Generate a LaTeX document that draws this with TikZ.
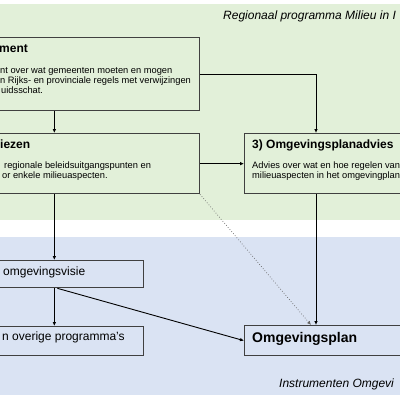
\documentclass[tikz,border=0pt]{standalone}
\usepackage{fontspec}
\setmainfont{Liberation Sans}
\usetikzlibrary{arrows.meta, positioning}
\definecolor{regiogreen}{HTML}{E2F0D9}
\definecolor{instrblue}{HTML}{DAE3F3}
\definecolor{boxline}{HTML}{404040}

\begin{document}
\begin{tikzpicture}[
    x=1pt, y=-1pt,
    >={Latex[length=4pt,width=3.6pt]},
    frame/.style={draw=boxline, line width=1.3pt, inner sep=0pt},
    conn/.style={->, line width=0.9pt},
    hint/.style={->, dotted, draw=black!60, line width=0.7pt},
    title/.style={anchor=base west, inner sep=0pt, font=\fontsize{12}{14}\selectfont\bfseries},
    body/.style={anchor=base west, inner sep=0pt, font=\fontsize{9.3}{10}\selectfont},
    plain/.style={anchor=base west, inner sep=0pt, font=\fontsize{12}{14}\selectfont},
    area/.style={anchor=base west, inner sep=0pt, font=\fontsize{12}{14}\selectfont\itshape},
]
    \useasboundingbox (0,0) rectangle (400,400);
    \clip (0,0) rectangle (400,400);

    % vlakken
    \fill[regiogreen] (0,4) rectangle (400,220);
    \fill[instrblue]  (0,237) rectangle (400,395);

    % kaders
    \node[frame, fill=regiogreen, minimum width=290pt, minimum height=73pt, anchor=north east] (docu)       at (200,37)  {};
    \node[frame, fill=regiogreen, minimum width=290pt, minimum height=60pt, anchor=north east] (adviezen)   at (200,133) {};
    \node[frame, fill=regiogreen, minimum width=200pt, minimum height=60pt, anchor=north west] (planadvies) at (244,133) {};
    \node[frame, fill=instrblue,  minimum width=178pt, minimum height=27pt, anchor=north east] (visie)      at (144,260) {};
    \node[frame, fill=instrblue,  minimum width=178pt, minimum height=29pt, anchor=north east] (overig)     at (144,326) {};
    \node[frame, fill=instrblue,  minimum width=200pt, minimum height=30pt, anchor=north west] (plan)       at (244,325) {};

    \coordinate (knik) at (316,0);
    \coordinate (stip) at (311,0);

    % pijlen
    \draw[conn] (docu.south) -- (adviezen.north);
    \draw[conn] (docu.east) -| (knik |- planadvies.north);
    \draw[conn] (adviezen.east) -- (planadvies.west);
    \draw[conn] (knik |- planadvies.south) -- (knik |- plan.north);
    \draw[hint] (adviezen.south east) -- (stip |- plan.north);
    \draw[conn] (adviezen.south) -- (visie.north);
    \draw[conn] (visie.south) -- (overig.north);
    \draw[conn] ([xshift=3pt]visie.south) -- (plan.west);

    % teksten
    \node[title] (docutitel) at (-1,52) {ment};
    \node[body]  (docu1) at (0,73) {nt over wat gemeenten moeten en mogen};
    \node[body]  (docu2) at (0,83) {n Rijks- en provinciale regels met verwijzingen};
    \node[body]  (docu3) at (1,93) {uidsschat.};

    \node[title] (adviezentitel) at (0,148) {iezen};
    \node[body]  (adviezen1) at (4,168) {regionale beleidsuitgangspunten en};
    \node[body]  (adviezen2) at (2,178) {or enkele milieuaspecten.};

    \node[title] (planadviestitel) at (252,148) {3) Omgevingsplanadvies};
    \node[body]  (planadvies1) at (252,168) {Advies over wat en hoe regelen van};
    \node[body]  (planadvies2) at (252,178) {milieuaspecten in het omgevingplan};

    \node[plain] (visietekst)  at (3,275) {omgevingsvisie};
    \node[plain] (overigtekst) at (2,340) {n overige programma's};
    \node[title, font=\fontsize{14}{16}\selectfont\bfseries] (plantekst) at (252,342) {Omgevingsplan};

    \node[area] (regio)  at (223,19)  {Regionaal programma Milieu in I};
    \node[area] (instr)  at (279,387) {Instrumenten Omgevi};
\end{tikzpicture}
\end{document}
